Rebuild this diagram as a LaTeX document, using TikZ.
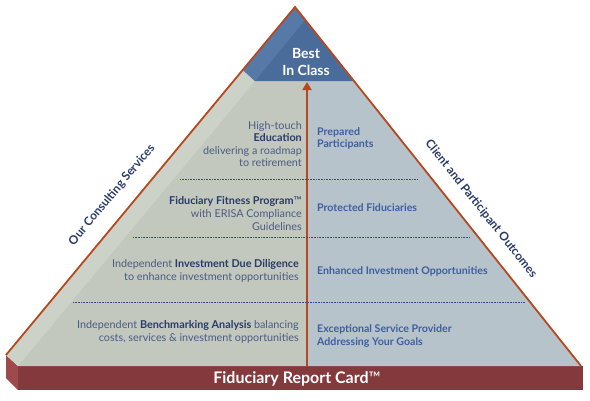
\documentclass[tikz,border=0pt]{standalone}
\usepackage{fontspec}
\setmainfont{Lato}
\usetikzlibrary{arrows.meta}
\definecolor{greenface}{RGB}{194,200,189}
\definecolor{greenband}{RGB}{204,210,199}
\definecolor{greyface}{RGB}{183,195,203}
\definecolor{capblue}{RGB}{74,108,155}
\definecolor{capband}{RGB}{86,121,167}
\definecolor{edgeorange}{RGB}{181,72,30}
\definecolor{slabfront}{RGB}{132,57,61}
\definecolor{slabside}{RGB}{158,74,76}
\definecolor{navytext}{RGB}{42,58,105}
\definecolor{mutedtext}{RGB}{76,91,132}
\definecolor{bluetext}{RGB}{62,94,160}
\definecolor{dotnavy}{RGB}{52,76,132}
\tikzset{
  base/.style={font=\fontsize{10.8}{12.6}\selectfont, inner sep=0pt},
  svc/.style={base, anchor=east, align=right, text=mutedtext},
  outc/.style={base, anchor=west, align=left, text=bluetext, font=\fontsize{10.6}{12.6}\selectfont\bfseries},
  sidelbl/.style={font=\fontsize{11.9}{13}\selectfont\bfseries, text=navytext, inner sep=0pt},
  toplbl/.style={font=\fontsize{14}{16.5}\selectfont\bfseries, text=white, align=center, inner sep=0pt},
  sep/.style={draw=dotnavy, line width=0.8pt, dash pattern=on 0.8pt off 0.8pt},
  edge/.style={draw=edgeorange, line width=1.8pt},
  arr/.style={-{Triangle[length=8pt,width=9pt]}, draw=edgeorange, fill=edgeorange, line width=1.8pt},
}
\newcommand{\svcb}[1]{{\bfseries\color{navytext}#1}}

\begin{document}
\begin{tikzpicture}[x=1pt,y=-1pt]
  \useasboundingbox (0,0) rectangle (590,400);
  % slab
  \fill[slabside] (6,355) -- (18,366) -- (18,390) -- (6,378) -- cycle;
  \fill[slabfront] (18,366) rectangle (583,390);
  % faces
  \fill[greenface] (243,70) -- (6,355) -- (18,366) -- (307,366) -- (307,81) -- (255,81) -- cycle;
  \fill[greenband] (243,70) -- (6,355) -- (18,366) -- (255,81) -- cycle;
  \fill[greyface] (307,81) -- (354,81) -- (581,366) -- (307,366) -- cycle;
  \fill[capblue] (295,7) -- (243,70) -- (255,81) -- (354,81) -- cycle;
  \fill[capband] (295,7) -- (243,70) -- (255,81) -- (305,20) -- cycle;
  \draw[edge] (6,355) -- (295,7) -- (581,366);
  % arrow
  \coordinate (arrS) at (307,366);
  \coordinate (arrE) at (307,82);
  \draw[arr] (arrS) -- (arrE);
  % separators
  \draw[sep] (180,179) -- (417,179);
  \draw[sep] (133,237) -- (470,237);
  \draw[sep] (73,302) -- (525,302);
  % services
  \node[svc] (edu) at (302,144) {High-touch\\\svcb{Education}\\delivering a roadmap\\to retirement};
  \node[svc] (fit) at (302,213.5) {\svcb{Fiduciary Fitness Program}{\color{navytext}™}\\with ERISA Compliance\\Guidelines};
  \node[svc] (due) at (299,271) {Independent \svcb{Investment Due Diligence}\\to enhance investment opportunities};
  \node[svc] (bench) at (299,332) {Independent \svcb{Benchmarking Analysis} balancing\\costs, services \& investment opportunities};
  % outcomes
  \node[outc] (prep) at (317,138.5) {Prepared\\Participants};
  \node[outc] (prot) at (317,208) {Protected Fiduciaries};
  \node[outc] (enh) at (317,271) {Enhanced Investment Opportunities};
  \node[outc] (exc) at (317,336) {Exceptional Service Provider\\Addressing Your Goals};
  % labels
  \node[toplbl] (best) at (306,62) {Best\\In Class};
  \node[font=\fontsize{16}{18}\selectfont\bfseries, text=white, inner sep=0pt] (card) at (297,379) {Fiduciary Report Card{\mdseries™}};
  \node[sidelbl, rotate=50.3] (ours) at (112,195) {Our Consulting Services};
  \node[sidelbl, rotate=-51.5] (client) at (481,209) {Client and Participant Outcomes};
\end{tikzpicture}
\end{document}
